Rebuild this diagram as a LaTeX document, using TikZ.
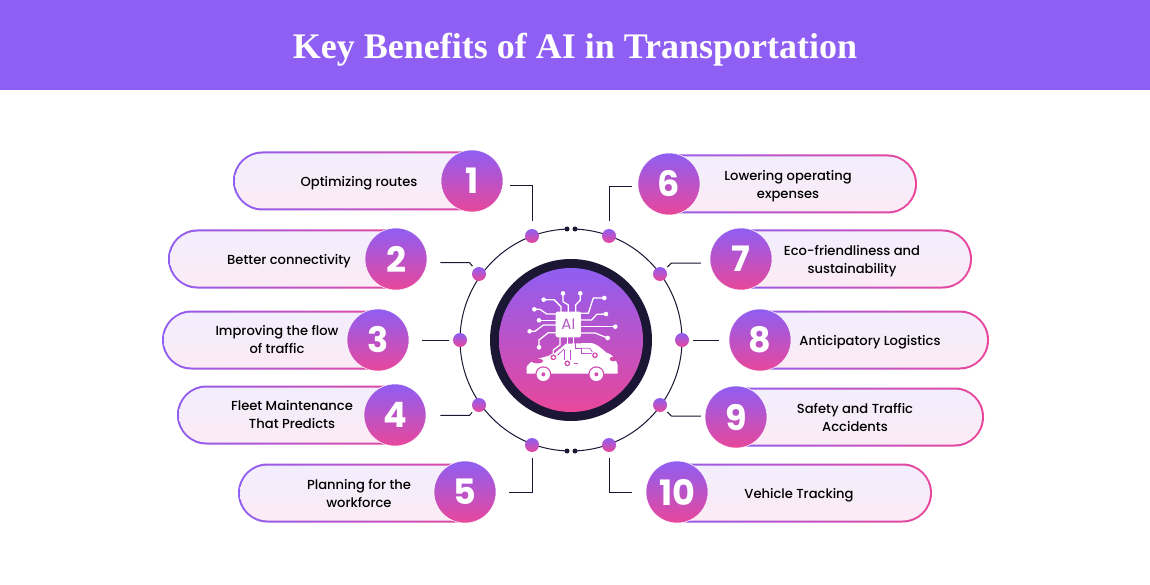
\documentclass[tikz,border=0pt]{standalone}
\usepackage{fontspec}
\setmainfont{Poppins}
\newfontfamily\medfont{Poppins Medium}
\newfontfamily\boldfont{Poppins}[BoldFont=* Bold]
\newfontfamily\titlefont{Liberation Serif}
\definecolor{hdr}{HTML}{8F5EF2}
\definecolor{gpur}{HTML}{8F5EF2}
\definecolor{gpnk}{HTML}{E9479B}
\definecolor{ink}{HTML}{1A1633}
\definecolor{ptop}{HTML}{F3EEFD}
\definecolor{pbot}{HTML}{FBEBF5}
\definecolor{iconbg}{HTML}{D24DB2}
\definecolor{iconmid}{HTML}{B756C8}
\tikzset{
  pillout/.style={rectangle,rounded corners=29.5pt,inner sep=0,left color=gpur,right color=gpnk,draw=none},
  pillin/.style={rectangle,rounded corners=27.5pt,inner sep=0,top color=ptop,bottom color=pbot,draw=none},
  numc/.style={circle,inner sep=0,minimum size=62pt,top color=gpur,bottom color=gpnk,draw=white,line width=.5pt,text=white,font=\boldfont\bfseries\fontsize{35}{35}\selectfont},
  dotc/.style={circle,inner sep=0,minimum size=14pt,top color=gpur,bottom color=gpnk,draw=none},
  tiny/.style={circle,inner sep=0,minimum size=5pt,fill=ink,draw=none},
  lbl/.style={align=center,text=black,inner sep=0,font=\medfont\fontsize{13.1}{18}\selectfont},
  conn/.style={draw=ink,line width=1pt,line join=miter},
  trace/.style={draw=white,line width=1.3pt,line cap=round,line join=round},
}
\begin{document}
\begin{tikzpicture}[x=1pt,y=-1pt]
\useasboundingbox (0,0) rectangle (1150,585);
\fill[white] (0,0) rectangle (1150,585);
\fill[hdr] (0,0) rectangle (1150,90);
\node[text=white,inner sep=0] (title) at (575,50) {\titlefont\bfseries\fontsize{36}{36}\selectfont Key Benefits of AI in Transportation};

% ring
\node[circle,draw=ink,line width=1pt,inner sep=0,minimum size=222pt] (ring) at (571,340) {};
\fill[white] (568.5,226) rectangle (573.5,232);
\fill[white] (568.5,448) rectangle (573.5,454);
\node[tiny] (ta) at (567,229) {};
\node[tiny] (tb) at (575,229) {};
\node[tiny] (tc) at (567,451) {};
\node[tiny] (td) at (575,451) {};
% hub
\node[circle,fill=ink,inner sep=0,minimum size=162pt] (hubo) at (571,340) {};
\node[circle,inner sep=0,minimum size=144pt,top color=gpur,bottom color=gpnk] (hub) at (571,340) {};

% pills
\foreach \n/\xa/\xb/\yc/\tx/\ty/\txt in {
 1/233/492/181/359/183/{Optimizing routes},
 2/168/416/259/289/261/{Better connectivity},
 3/162/398/340/277/340/{Improving the flow\\of traffic},
 4/177/415/415/292/415/{Fleet Maintenance\\That Predicts},
 5/238/485/493/359/493/{Planning for the\\workforce},
 6/649/917/184/788/186/{Lowering operating\\expenses},
 7/721/972/259/852/261/{Eco-friendliness and\\sustainability},
 8/740/989/340/870/342/{Anticipatory Logistics},
 9/716/984/417/855/417/{Safety and Traffic\\Accidents},
 10/657/932/493/799/495/{Vehicle Tracking}}{
  \pgfmathsetmacro{\pw}{\xb-\xa}
  \pgfmathsetmacro{\pm}{(\xa+\xb)/2}
  \node[pillout,minimum width=\pw pt,minimum height=59pt] (pilla\n) at (\pm,\yc) {};
  \node[pillin,minimum width=\pw pt-4pt,minimum height=55pt] (pillb\n) at (\pm,\yc) {};
  \node[lbl] (txt\n) at (\tx,\ty) {\txt};
}
\node[numc] (num1) at (472,181) {1};
\node[numc] (num2) at (396,259) {2};
\node[numc] (num3) at (378,340) {3};
\node[numc] (num4) at (395,415) {4};
\node[numc] (num5) at (465,492) {5};
\node[numc] (num6) at (669,184) {6};
\node[numc] (num7) at (741,259) {7};
\node[numc] (num8) at (760,340) {8};
\node[numc] (num9) at (736,417) {9};
\node[numc] (num10) at (677,492) {10};

% ring dots
\node[dotc] (dot1) at (532,236) {};
\node[dotc] (dot2) at (479,274) {};
\node[dotc] (dot3) at (460,340) {};
\node[dotc] (dot4) at (479,405) {};
\node[dotc] (dot5) at (532,445) {};
\node[dotc] (dot6) at (609,236) {};
\node[dotc] (dot7) at (660,274) {};
\node[dotc] (dot8) at (682,340) {};
\node[dotc] (dot9) at (660,405) {};
\node[dotc] (dot10) at (609,445) {};

% connectors
\draw[conn,shorten <=7pt,shorten >=8pt] ([yshift=-4.7pt]num1.east) -| (dot1.north);
\draw[conn,shorten <=6pt,shorten >=8pt] ([yshift=-2.3pt]num6.west) -| (dot6.north);
\draw[conn,shorten <=13pt,shorten >=3pt] ([yshift=-3.7pt]num2.east) -- ++(42.3,0) -- (dot2);
\draw[conn,shorten <=9pt,shorten >=3pt] ([yshift=-4pt]num7.west) -- ++(-38.3,0) -- (dot7);
\draw[conn,shorten <=13pt,shorten >=4pt] (num3.east) -- (dot3);
\draw[conn,shorten <=10pt,shorten >=4pt] (num8.west) -- (dot8);
\draw[conn,shorten <=14pt,shorten >=3pt] ([yshift=-.3pt]num4.east) -- ++(43.3,0) -- (dot4);
\draw[conn,shorten <=4pt,shorten >=3pt] ([yshift=1pt]num9.west) -- ++(-33.3,0) -- (dot9);
\draw[conn,shorten <=13pt,shorten >=6pt] ([yshift=-.3pt]num5.east) -| (dot5.south);
\draw[conn,shorten <=14pt,shorten >=6pt] ([yshift=-.7pt]num10.west) -| (dot10.south);

% icon
\begin{scope}[shift={(480,250)},x=0.3333pt,y=-0.3333pt]
 % traces
 \foreach \p in {
  {(249,130)--(249,155)--(265,165)--(265,190)},
  {(301,130)--(301,150)--(287,165)--(287,190)},
  {(191,149)--(222,149)--(243,170)--(243,190)},
  {(163,178)--(180,178)--(200,192)--(230,192)},
  {(177,211)--(230,211)},
  {(149,244)--(165,244)--(190,225)--(230,225)},
  {(177,292)--(177,270)--(205,248)--(230,248)},
  {(373,144)--(340,144)--(325,190)--(300,190)},
  {(378,192)--(350,193)--(335,210)--(300,210)},
  {(406,230)--(300,230)},
  {(383,264)--(345,249)--(300,249)},
  {(240,258)--(240,285)--(220,300)--(220,322)},
  {(262,258)--(262,340)},
  {(281,258)--(281,285)}}{
   \draw[trace] \p;
 }
 \foreach \a/\b in {249/130,301/130,191/149,163/178,177/211,149/244,177/292,373/144,378/192,406/230,383/264}{
   \fill[white] (\a,\b) circle[radius=2.3pt];
 }
 % chip
 \fill[white,rounded corners=1.5pt] (227,185) rectangle (303,262);
 \node[inner sep=0,text=iconmid,font=\fontsize{15}{15}\selectfont] (chiptxt) at (265,223) {AI};
 % car
 \fill[white] (140,371) -- (140,350) .. controls (150,335) and (165,328) .. (190,322) -- (220,313) -- (258,281) -- (335,279) .. controls (350,282) and (365,295) .. (378,307) .. controls (395,312) and (408,325) .. (413,345) -- (413,371) -- cycle;
 \foreach \a in {190,349}{
   \fill[iconbg] (\a,373) circle[radius=8pt];
   \fill[white] (\a,373) circle[radius=6.7pt];
   \fill[iconbg] (\a,373) circle[radius=2pt];
 }
 \draw[iconmid,line width=.8pt] (285,279)--(285,295)--(305,295)--(305,311)--(340,311);
 \draw[iconmid,line width=.8pt] (305,295)--(330,295)--(340,311);
 \draw[iconmid,line width=.8pt] (232,316)--(252,297);
 \draw[iconmid,line width=.8pt] (252,300)--(252,330);
 \draw[iconmid,line width=.8pt] (272,300)--(272,330);
 \fill[iconbg] (172,333) ellipse[x radius=18,y radius=7];
 \fill[iconbg] (400,327) ellipse[x radius=11,y radius=7];
 \fill[iconbg] (281,339) rectangle (293,342);
 \foreach \a/\b in {220/322,262/340,345/316}{
   \fill[white] (\a,\b) circle[radius=4pt];
   \fill[iconbg] (\a,\b) circle[radius=2.9pt];
   \fill[white] (\a,\b) circle[radius=1.6pt];
 }
\end{scope}
\end{tikzpicture}
\end{document}
